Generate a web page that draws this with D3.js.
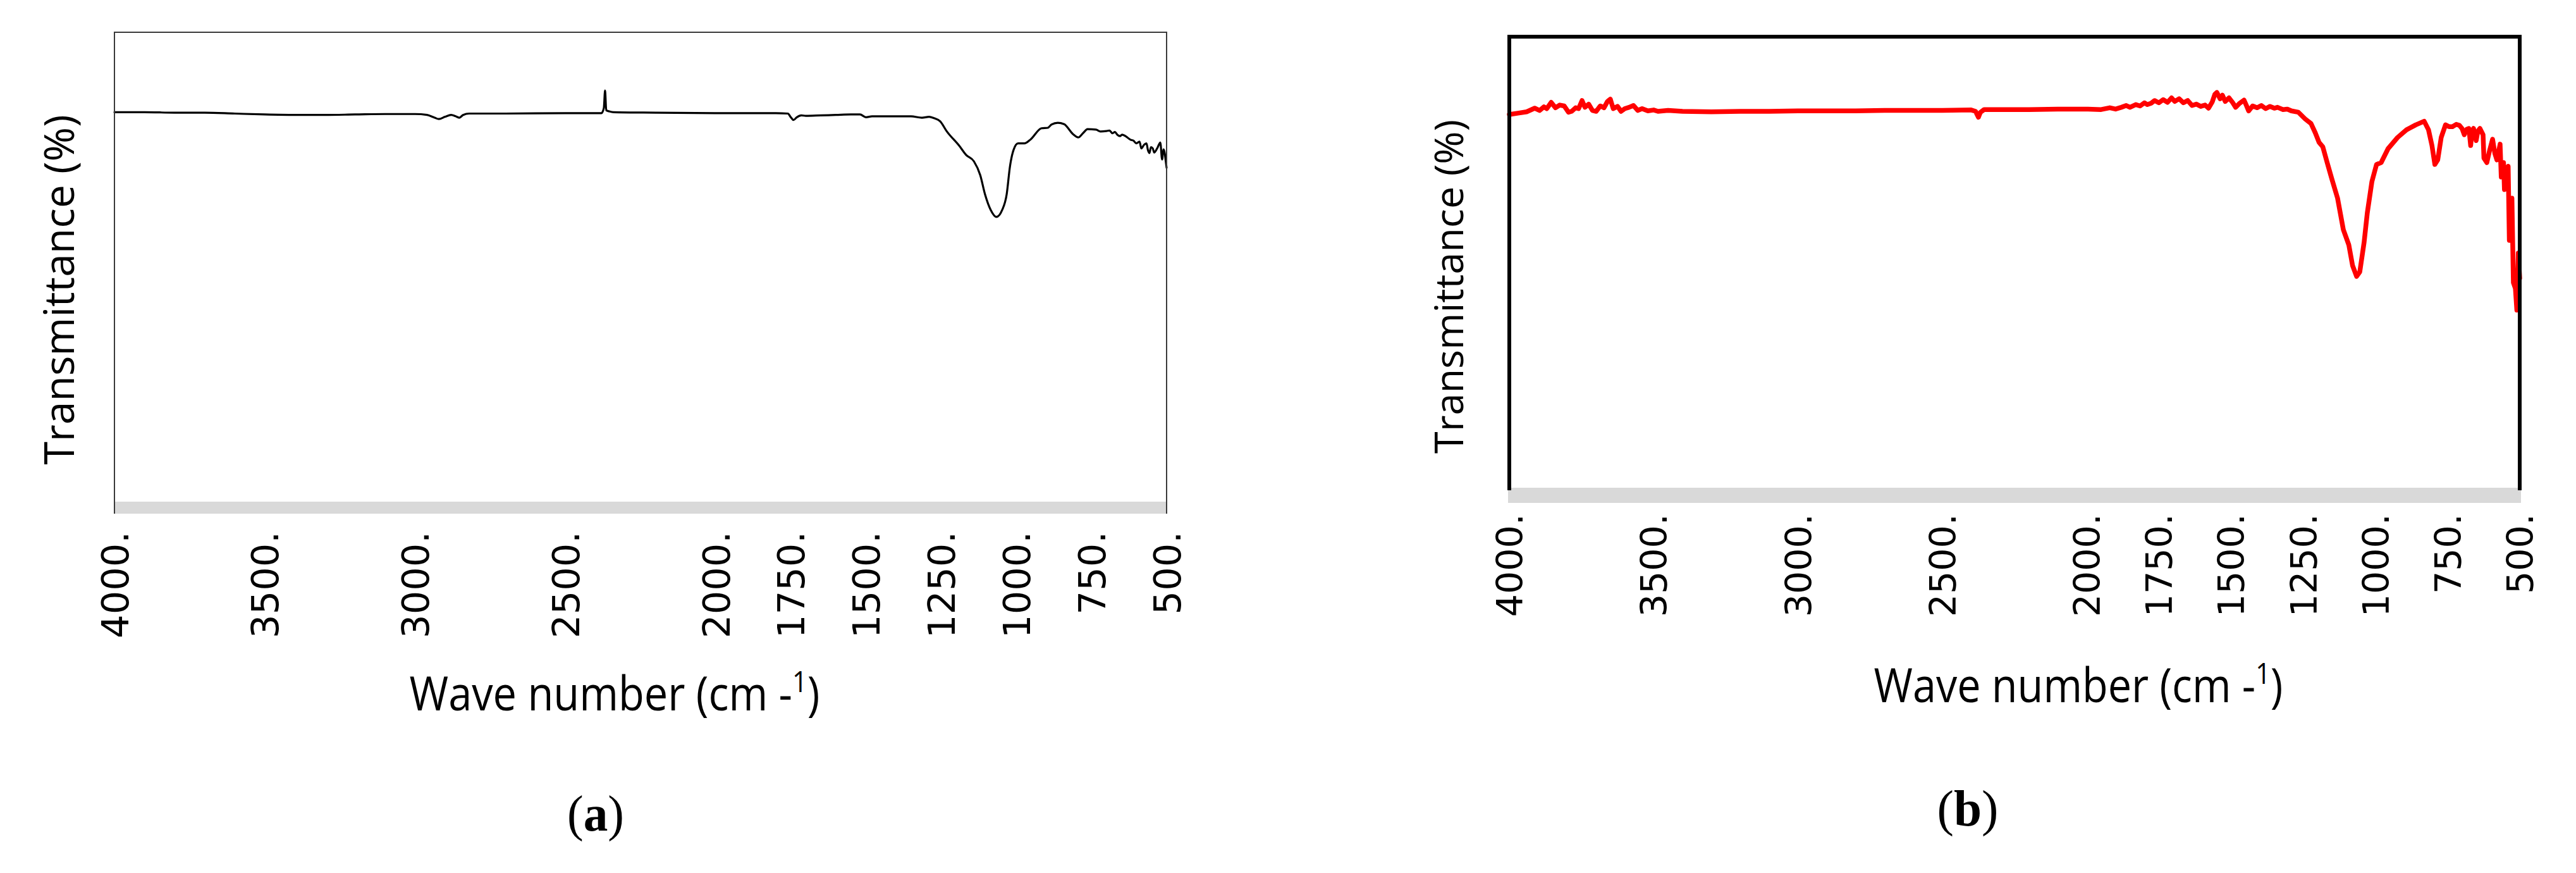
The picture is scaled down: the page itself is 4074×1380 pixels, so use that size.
<!DOCTYPE html>
<html><head><meta charset="utf-8">
<script src="https://cdn.jsdelivr.net/npm/d3@7"></script>
<style>html,body{margin:0;padding:0;background:#fff;} svg{display:block;}</style>
</head><body><svg id="c" width="4074" height="1380"></svg>
<script>
// ---- data ----
const ticks = [4000, 3500, 3000, 2500, 2000, 1750, 1500, 1250, 1000, 750, 500];
const tickLabels = ["4000.", "3500.", "3000.", "2500.", "2000.", "1750.", "1500.", "1250.", "1000.", "750.", "500."];
const yTitle = "Transmittance (%)";
const xTitleMain = "Wave number (cm -";
const xTitleSup = "1";
const xTitleEnd = ")";
const panelLabels = ["a", "b"];

const waveA = [4000,3900,3800,3700,3600,3500,3400,3300,3200,3100,
  3000,2960,2935,2921,2900,2880,2865,2853,2840,2820,
  2700,2500,2380,2372,2368,2364,2355,2340,2200,2000,
  1800,1760,1750,1741,1730,1715,1700,1650,1600,1550,
  1520,1500,1480,1436,1350,1314,1290,1274,1253,1232,
  1190,1167,1141,1120,1104,1085,1066,1047,1032,1021,
  1009,994,973,952,916,895,883,862,841,811,
  794,777,763,735,720,700,690,680,672,664,
  655,648,637,620,610,601,590,584,575,567,
  562,557,552,546,541,536,530,521,515,510,
  506,503,500];
const transA = [82.6,82.6,82.5,82.5,82.3,82.1,82.0,82.0,82.1,82.2,
  82.2,82.0,81.4,81.1,81.6,82.0,81.7,81.4,82.0,82.3,
  82.3,82.4,82.4,83.5,87.3,83.0,82.8,82.6,82.5,82.4,
  82.4,82.3,81.5,80.9,81.5,81.9,81.8,81.9,82.0,82.1,
  82.1,81.5,81.7,81.7,81.7,81.4,81.6,81.3,80.6,78.5,
  75.3,73.3,71.9,68.9,64.7,61.3,59.8,61.3,64.7,70.8,
  74.4,75.8,75.8,76.7,79.1,79.2,79.9,80.3,80.0,77.8,
  77.1,78.1,78.9,78.8,78.4,78.5,78.6,78.0,78.3,77.7,
  77.4,77.7,77.4,76.6,76.4,75.8,76.2,74.7,75.5,75.8,
  74.3,73.7,75.0,74.7,73.8,74.2,74.9,76.0,72.3,74.5,
  73.6,72.0,70.5];

const waveB = [4000,3970,3940,3912,3895,3880,3870,3855,3840,3825,
  3810,3795,3784,3770,3760,3748,3738,3725,3712,3699,
  3685,3672,3660,3650,3640,3625,3613,3600,3585,3570,
  3555,3540,3520,3500,3485,3450,3400,3300,3200,3100,
  3000,2900,2800,2700,2600,2500,2400,2385,2375,2368,
  2355,2300,2200,2100,2000,1950,1920,1900,1880,1863,
  1850,1830,1815,1800,1790,1777,1765,1750,1735,1720,
  1706,1695,1680,1665,1650,1635,1620,1605,1590,1578,
  1565,1556,1549,1538,1530,1520,1507,1495,1484,1470,
  1455,1446,1439,1425,1410,1395,1380,1365,1350,1339,
  1320,1305,1291,1267,1243,1223,1208,1195,1182,1167,
  1151,1131,1111,1092,1079,1065,1054,1039,1028,1012,
  996,980,956,923,892,860,831,816,804,794,
  784,772,757,745,733,720,709,700,692,684,
  676,670,665,660,651,645,638,627,624,614,
  604,594,586,579,568,564,556,553,546,540,
  536,527,522,515,510,505,500];
const transB = [82.7,83.0,83.3,84.1,83.6,84.4,84.0,85.4,84.2,84.8,
  84.6,83.2,83.4,84.2,84.0,85.8,84.3,85.0,83.6,83.4,
  84.6,84.2,85.6,86.1,84.0,84.5,83.4,84.0,84.3,84.7,
  83.6,84.0,83.5,83.7,83.4,83.6,83.4,83.3,83.4,83.4,
  83.5,83.5,83.5,83.6,83.6,83.6,83.7,83.4,82.1,83.2,
  83.8,83.8,83.8,83.9,83.9,83.8,84.2,83.9,84.3,84.7,
  84.3,84.9,84.6,85.3,84.9,85.2,85.8,85.3,86.0,85.4,
  86.4,85.6,86.2,85.3,85.8,84.7,85.0,84.5,84.8,84.1,
  85.5,87.2,87.6,86.2,87.0,85.6,86.4,85.4,84.3,85.2,
  85.9,84.6,83.5,84.6,84.2,84.7,84.0,84.5,84.1,84.3,
  83.8,83.9,83.5,83.2,81.7,80.7,78.6,76.5,75.5,72.0,
  68.4,64.1,57.1,53.7,49.1,46.7,47.7,54.3,60.8,67.8,
  71.6,72.0,75.1,77.6,79.3,80.4,81.2,79.3,75.8,71.6,
  72.6,77.6,80.4,80.0,80.0,80.5,80.3,79.6,78.2,79.4,
  79.6,75.8,79.0,79.6,76.9,79.0,79.6,78.2,73.0,72.0,
  74.8,77.2,74.0,72.6,76.1,68.8,72.0,66.0,70.0,71.2,
  54.7,64.1,45.3,44.0,39.2,51.9,46.3];

// ---- drawing ----
const svg = d3.select("#c");
svg.append("rect").attr("width", 4074).attr("height", 1380).attr("fill", "#fff");

function fitWidth(sel, cx, target) {
  const w = sel.node().getBBox().width;
  const s = target / w;
  sel.attr("transform", `translate(${cx},0) scale(${s},1) translate(${-cx},0)`);
}

function panel(cfg) {
  const x = d3.scaleLinear().domain([4000, 500]).range([cfg.left, cfg.right]);
  const y = d3.scaleLinear().domain(cfg.yDomain).range([cfg.bottom, cfg.top]);
  const g = svg.append("g");

  // line
  const n = Math.min(cfg.wave.length, cfg.trans.length);
  const data = d3.range(n).map(i => ({ w: cfg.wave[i], t: cfg.trans[i] }));
  g.append("path").datum(data)
    .attr("d", d3.line().x(d => x(d.w)).y(d => y(d.t)).curve(cfg.curve))
    .attr("fill", "none").attr("stroke", cfg.lineColor).attr("stroke-width", cfg.lineW)
    .attr("stroke-linejoin", "round").attr("stroke-linecap", "round");

  // grey axis band
  g.append("rect")
    .attr("x", cfg.left - cfg.bandPad).attr("y", cfg.bottom)
    .attr("width", cfg.right - cfg.left + 2 * cfg.bandPad).attr("height", cfg.band)
    .attr("fill", "#d9d9d9");

  // frame
  g.append("path")
    .attr("d", `M${cfg.left},${cfg.bottom + cfg.frameExt}V${cfg.top}H${cfg.right}V${cfg.bottom + cfg.frameExt}`)
    .attr("fill", "none").attr("stroke", cfg.frameColor).attr("stroke-width", cfg.frameW)
    .attr("stroke-linejoin", "miter");

  // axis with rotated labels
  const axis = d3.axisBottom(x).tickValues(ticks)
    .tickFormat((d, i) => tickLabels[i]).tickSize(0).tickPadding(0);
  const ag = g.append("g").attr("transform", `translate(0,${cfg.labelTop})`).call(axis);
  ag.select(".domain").remove();
  ag.selectAll(".tick line").remove();
  ag.selectAll("text")
    .attr("x", 0).attr("y", 0).attr("dy", "0.36em")
    .attr("transform", "rotate(-90)")
    .attr("text-anchor", "end")
    .attr("fill", "#000")
    .style("font-family", "'DejaVu Sans', Verdana, sans-serif")
    .style("font-size", cfg.tickFont + "px");
  ag.attr("font-family", null).attr("font-size", null);

  // y title
  g.append("text")
    .attr("transform", `translate(${cfg.yTitleX},${cfg.yTitleY}) rotate(-90)`)
    .attr("text-anchor", "middle")
    .style("font-family", "'Open Sans', 'Noto Sans', sans-serif")
    .style("font-size", cfg.yTitleSize + "px")
    .attr("fill", "#000")
    .text(yTitle);

  // x title
  const xt = g.append("text")
    .attr("x", cfg.xTitleX).attr("y", cfg.xTitleY)
    .attr("text-anchor", "middle")
    .style("font-family", "'Liberation Sans Narrow', 'Open Sans', sans-serif")
    .style("font-size", cfg.xTitleSize + "px")
    .attr("fill", "#000");
  xt.append("tspan").attr("fill", "#000").text(xTitleMain);
  xt.append("tspan").attr("fill", "#000").attr("dy", -cfg.xTitleSize * 0.38).style("font-size", (cfg.xTitleSize * 0.62) + "px").text(xTitleSup);
  xt.append("tspan").attr("fill", "#000").attr("dy", cfg.xTitleSize * 0.38).text(xTitleEnd);
  fitWidth(xt, cfg.xTitleX, cfg.xTitleW);

  // panel label
  const pl = g.append("text")
    .attr("x", cfg.labelX).attr("y", cfg.labelY)
    .attr("text-anchor", "middle")
    .style("font-family", "'Liberation Serif', 'DejaVu Serif', serif")
    .style("font-size", cfg.labelSize + "px")
    .attr("fill", "#000");
  pl.append("tspan").text("(");
  pl.append("tspan").style("font-weight", "bold").text(cfg.label);
  pl.append("tspan").text(")");
  fitWidth(pl, cfg.labelX, cfg.labelW);
}

panel({
  wave: waveA, trans: transA, yDomain: [-2.2, 100],
  left: 181, right: 1845, top: 51, bottom: 793, band: 19, bandPad: 1,
  frameColor: "#3a3a3a", frameW: 2, frameExt: 19,
  lineColor: "#000", lineW: 3.2, curve: d3.curveMonotoneX,
  labelTop: 840, tickFont: 59,
  yTitleX: 117, yTitleY: 458, yTitleSize: 66,
  xTitleX: 972, xTitleY: 1123, xTitleSize: 75, xTitleW: 649,
  label: panelLabels[0], labelX: 942, labelY: 1313, labelSize: 80, labelW: 90
});

panel({
  wave: waveB, trans: transB, yDomain: [-0.3, 100],
  left: 2387, right: 3985, top: 58, bottom: 771, band: 24, bandPad: 2,
  frameColor: "#000", frameW: 6, frameExt: 4,
  lineColor: "#ff0000", lineW: 7.5, curve: d3.curveLinear,
  labelTop: 812, tickFont: 57,
  yTitleX: 2314, yTitleY: 453, yTitleSize: 63,
  xTitleX: 3287, xTitleY: 1110, xTitleSize: 75, xTitleW: 647,
  label: panelLabels[1], labelX: 3112, labelY: 1305, labelSize: 80, labelW: 97
});
</script>
</body></html>
